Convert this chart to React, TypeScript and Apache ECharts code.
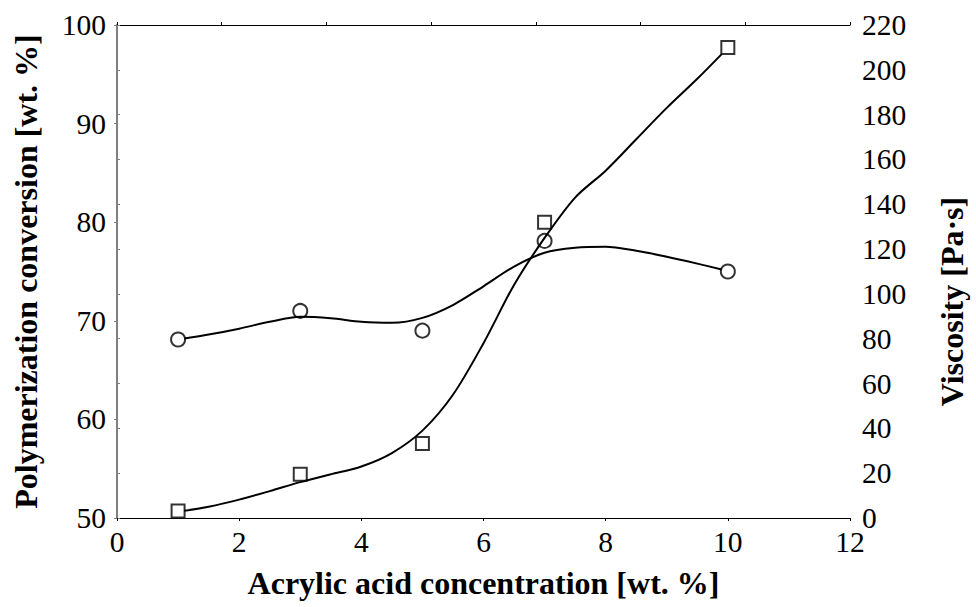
import React, { useEffect, useRef } from "react";
import * as echarts from "echarts";

// Measured points
const concentration = [1, 3, 5, 7, 10];
const conversion = [68.1, 71.0, 69.0, 78.1, 75.0];
const viscosity = [3.1, 19.5, 33.2, 132, 210];

// Fitted curves
const fitX = [1.1, 1.5, 2, 2.5, 3, 3.5, 4, 4.5, 5, 5.5, 6, 6.5, 7, 7.5, 8, 8.5, 9, 9.5, 9.9];
const conversionFitY = [68.2, 68.6, 69.2, 69.9, 70.4, 70.25, 69.9, 69.8, 70.3, 71.6, 73.5, 75.5, 76.9, 77.4, 77.5, 77.1, 76.5, 75.8, 75.2];
const viscosityFitY = [3.2, 5, 8.2, 12, 16, 19.5, 23, 29, 39, 55, 78, 104, 125, 143, 155, 169, 183, 196, 207];

const xTicksTop = 7;

const FONT = "Liberation Serif";

export default function App() {
  const ref = useRef<HTMLDivElement>(null);
  useEffect(() => {
    if (!ref.current) return;
    const chart = echarts.init(ref.current, null, { renderer: "svg" });
    const labelStyle = { fontFamily: FONT, fontSize: 29.5, color: "#000" };
    const nameStyle = { fontFamily: FONT, fontSize: 32, fontWeight: "bold", color: "#000" };
    chart.setOption({
      animation: false,
      backgroundColor: "#fff",
      grid: { left: 117, right: 113, top: 25, bottom: 89 },
      xAxis: [
        {
          type: "value", position: "bottom", min: 0, max: 12, interval: 2,
          axisLine: { lineStyle: { color: "#000", width: 1.2 } },
          axisTick: { inside: false, length: 3, lineStyle: { color: "#000" } },
          axisLabel: { ...labelStyle, margin: 9 },
          splitLine: { show: false },
          name: "Acrylic acid concentration [wt. %]",
          nameLocation: "middle", nameGap: 49, nameTextStyle: nameStyle,
        },
        {
          type: "value", position: "top", min: 0, max: 12, interval: 12 / xTicksTop,
          axisLine: { lineStyle: { color: "#000", width: 1.2 } },
          axisTick: { inside: false, length: 3, lineStyle: { color: "#000" } },
          axisLabel: { show: false },
          splitLine: { show: false },
        },
      ],
      yAxis: [
        {
          type: "value", position: "left", min: 50, max: 100, interval: 10,
          axisLine: { show: true, lineStyle: { color: "#808080", width: 2 } },
          axisTick: { show: true, inside: false, length: 3, lineStyle: { color: "#808080" } },
          axisLabel: { ...labelStyle, margin: 11 },
          splitLine: { show: false },
          name: "Polymerization conversion [wt. %]",
          nameLocation: "middle", nameRotate: 90, nameGap: 75, nameTextStyle: nameStyle,
        },
        {
          type: "value", position: "right", min: 0, max: 220, interval: 20,
          axisLine: { show: true, lineStyle: { color: "#808080", width: 2 } },
          axisTick: { show: true, inside: false, length: 3, lineStyle: { color: "#808080" } },
          axisLabel: { ...labelStyle, margin: 12 },
          splitLine: { show: false },
          name: "Viscosity [Pa·s]",
          nameLocation: "middle", nameRotate: 90, nameGap: 86,
          nameTextStyle: { ...nameStyle, padding: [0, 60, 0, 0] },
        },
      ],
      series: [
        {
          type: "line", xAxisIndex: 0, yAxisIndex: 0, smooth: 0.3,
          showSymbol: false, silent: true,
          lineStyle: { color: "#000", width: 2 },
          data: fitX.map((x, i) => [x, conversionFitY[i]]),
        },
        {
          type: "line", xAxisIndex: 0, yAxisIndex: 1, smooth: 0.3,
          showSymbol: false, silent: true,
          lineStyle: { color: "#000", width: 2 },
          data: fitX.map((x, i) => [x, viscosityFitY[i]]),
        },
        {
          type: "scatter", xAxisIndex: 0, yAxisIndex: 0, symbol: "circle", symbolSize: 14,
          itemStyle: { color: "rgba(0,0,0,0)", borderColor: "#000", borderWidth: 2 },
          data: concentration.map((x, i) => [x, conversion[i]]),
        },
        {
          type: "scatter", xAxisIndex: 0, yAxisIndex: 1, symbol: "rect", symbolSize: 13,
          itemStyle: { color: "rgba(0,0,0,0)", borderColor: "#000", borderWidth: 2 },
          data: concentration.map((x, i) => [x, viscosity[i]]),
        },
      ],
    });
    return () => chart.dispose();
  }, []);
  return <div ref={ref} style={{ width: 976, height: 607, position: "absolute", left: 0, top: 0 }} />;
}
